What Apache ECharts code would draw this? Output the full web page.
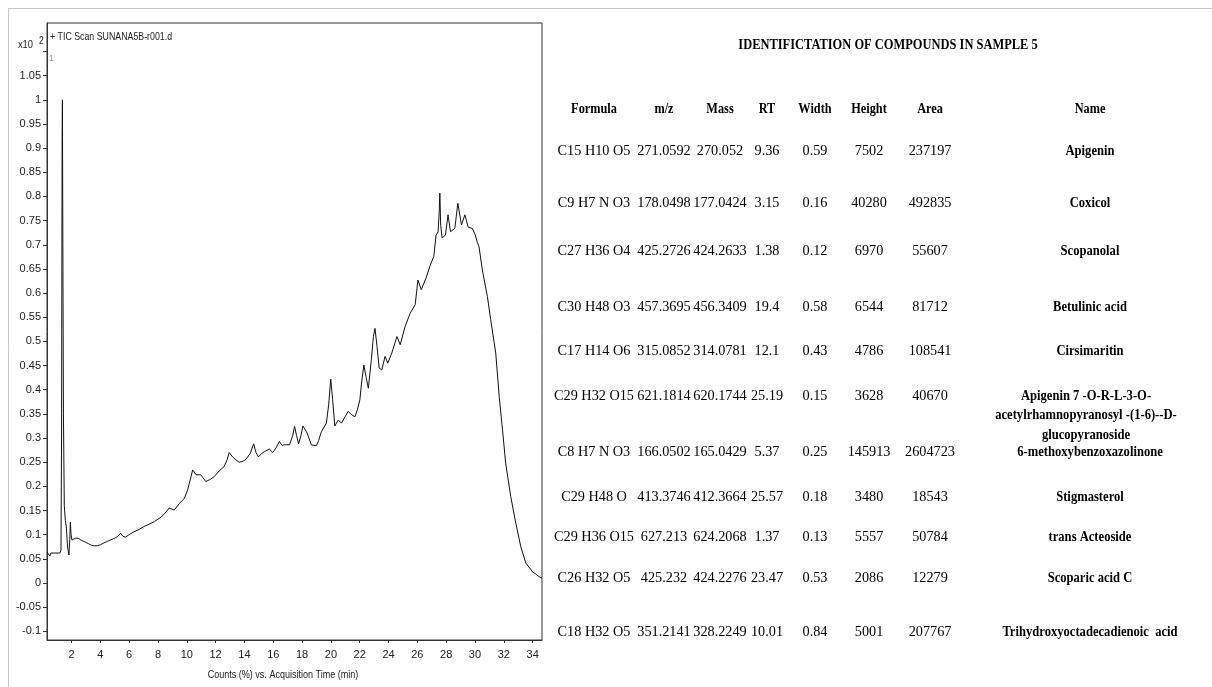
<!DOCTYPE html>
<html>
<head>
<meta charset="utf-8">
<script src="https://cdn.jsdelivr.net/npm/echarts@6/dist/echarts.min.js"></script>
<style>
html,body{margin:0;padding:0;background:#fff;}
#chart{width:1212px;height:687px;}
</style>
</head>
<body>
<div id="chart"></div>
<script>
// ---- Chromatogram data (retention time in min, counts x10^2) ----
const retentionTimes = [0.30,0.50,0.57,0.85,1.20,1.27,1.31,1.35,1.37,1.40,1.44,1.50,1.57,1.64,1.73,1.82,1.88,1.92,1.97,2.03,2.15,2.30,2.50,2.70,2.85,3.00,3.20,3.40,3.55,3.80,4.01,4.25,4.48,4.70,4.94,5.20,5.41,5.55,5.75,6.05,6.34,6.70,7.04,7.40,7.74,8.00,8.20,8.50,8.78,9.13,9.50,9.83,10.06,10.25,10.41,10.64,10.97,11.32,11.60,11.90,12.25,12.59,12.80,12.94,13.18,13.40,13.64,13.90,14.11,14.40,14.64,14.80,14.97,15.20,15.39,15.73,15.97,16.20,16.43,16.60,16.78,17.13,17.35,17.48,17.62,17.76,17.92,18.06,18.20,18.36,18.64,18.99,19.15,19.34,19.69,19.85,19.99,20.12,20.27,20.51,20.74,21.00,21.20,21.45,21.67,21.85,22.01,22.15,22.29,22.45,22.60,22.80,22.95,23.06,23.20,23.35,23.53,23.76,23.95,24.23,24.58,24.81,25.15,25.50,25.85,26.04,26.27,26.60,26.90,27.14,27.30,27.44,27.52,27.56,27.62,27.72,27.95,28.13,28.30,28.60,28.81,29.06,29.30,29.53,29.81,30.00,30.16,30.28,30.51,30.86,31.09,31.44,31.68,31.91,32.13,32.48,32.83,33.18,33.53,34.00,34.46,34.65];
const counts = [0.064,0.056,0.062,0.062,0.062,0.068,0.30,0.92,1.00,0.70,0.35,0.16,0.13,0.116,0.074,0.058,0.090,0.126,0.100,0.089,0.089,0.093,0.092,0.088,0.086,0.084,0.081,0.078,0.077,0.077,0.079,0.083,0.086,0.089,0.092,0.096,0.103,0.097,0.095,0.101,0.106,0.111,0.117,0.122,0.127,0.132,0.136,0.145,0.155,0.151,0.165,0.175,0.193,0.215,0.234,0.224,0.224,0.210,0.214,0.220,0.232,0.241,0.255,0.270,0.261,0.255,0.250,0.252,0.256,0.268,0.288,0.270,0.261,0.268,0.272,0.277,0.270,0.280,0.293,0.285,0.286,0.286,0.305,0.324,0.305,0.288,0.305,0.325,0.318,0.310,0.286,0.284,0.295,0.313,0.331,0.370,0.422,0.380,0.325,0.337,0.331,0.345,0.355,0.348,0.344,0.360,0.379,0.420,0.451,0.425,0.403,0.460,0.510,0.527,0.490,0.445,0.441,0.469,0.455,0.476,0.510,0.493,0.531,0.558,0.576,0.627,0.607,0.631,0.658,0.676,0.720,0.727,0.770,0.807,0.740,0.714,0.720,0.762,0.727,0.734,0.786,0.741,0.762,0.736,0.734,0.722,0.705,0.696,0.648,0.593,0.545,0.476,0.386,0.317,0.248,0.179,0.124,0.075,0.041,0.023,0.013,0.010];
const xTickLabels = [2,4,6,8,10,12,14,16,18,20,22,24,26,28,30,32,34];
const yTickLabels = [-0.1,-0.05,0,0.05,0.1,0.15,0.2,0.25,0.3,0.35,0.4,0.45,0.5,0.55,0.6,0.65,0.7,0.75,0.8,0.85,0.9,0.95,1,1.05];
const yTicks = yTickLabels.concat([1.1]);
const xAxisTitle = 'Counts (%) vs. Acquisition Time (min)';
const plotTitle = '+ TIC Scan SUNANA5B-r001.d';

// ---- Compound table ----
const tableTitle = 'IDENTIFICTATION OF COMPOUNDS IN SAMPLE 5';
const headers = ['Formula','m/z','Mass','RT','Width','Height','Area','Name'];
const formulas = ['C15 H10 O5','C9 H7 N O3','C27 H36 O4','C30 H48 O3','C17 H14 O6','C29 H32 O15','C8 H7 N O3','C29 H48 O','C29 H36 O15','C26 H32 O5','C18 H32 O5'];
const mzValues = ['271.0592','178.0498','425.2726','457.3695','315.0852','621.1814','166.0502','413.3746','627.213','425.232','351.2141'];
const masses = ['270.052','177.0424','424.2633','456.3409','314.0781','620.1744','165.0429','412.3664','624.2068','424.2276','328.2249'];
const rtValues = ['9.36','3.15','1.38','19.4','12.1','25.19','5.37','25.57','1.37','23.47','10.01'];
const widthValues = ['0.59','0.16','0.12','0.58','0.43','0.15','0.25','0.18','0.13','0.53','0.84'];
const heightValues = ['7502','40280','6970','6544','4786','3628','145913','3480','5557','2086','5001'];
const areaValues = ['237197','492835','55607','81712','108541','40670','2604723','18543','50784','12279','207767'];
const compoundNames = ['Apigenin','Coxicol','Scopanolal','Betulinic acid','Cirsimaritin','Apigenin 7 -O-R-L-3-O-\nacetylrhamnopyranosyl -(1-6)--D-\nglucopyranoside','6-methoxybenzoxazolinone','Stigmasterol','trans Acteoside','Scoparic acid C','Trihydroxyoctadecadienoic  acid'];

// ---- layout (not data) ----
const colX = [594,664,720,767,815,869,930,1090];
const headerY = 109;
const rowY = [151,203,251,307,351,396,452,497,537,578,632];
const serif = '"Liberation Serif","Times New Roman",serif';
const sans = '"Liberation Sans",Arial,sans-serif';

function txt(x, y, text, opt) {
  opt = opt || {};
  return {
    type: 'text', x: x, y: y, silent: true,
    scaleX: opt.scaleX || 1,
    style: {
      text: text, x: 0, y: 0,
      fill: opt.color || '#000',
      fontFamily: opt.family || serif,
      fontSize: opt.size || 15,
      fontWeight: opt.bold ? 'bold' : 'normal',
      align: opt.align || 'center', textAlign: opt.align || 'center',
      verticalAlign: opt.valign || 'middle', textVerticalAlign: opt.valign || 'middle',
      lineHeight: opt.lineHeight
    }
  };
}

const graphics = [];
// outer light frame
graphics.push({type:'line', silent:true, shape:{x1:8,y1:8.5,x2:1212,y2:8.5}, style:{stroke:'#c8c8c8',lineWidth:1}});
graphics.push({type:'line', silent:true, shape:{x1:8.5,y1:8,x2:8.5,y2:687}, style:{stroke:'#c8c8c8',lineWidth:1}});
// chromatogram annotations
graphics.push(txt(50, 37, plotTitle, {family: sans, size: 11, align: 'left', color:'#222', scaleX: 0.8}));
graphics.push(txt(49, 59, '1', {family: sans, size: 9, align: 'left', color:'#999'}));
graphics.push(txt(33, 45, 'x10', {family: sans, size: 11, align: 'right', color:'#222', scaleX: 0.85}));
graphics.push(txt(39, 41, '2', {family: sans, size: 10, align: 'left', color:'#222', scaleX: 0.85}));
graphics.push(txt(283, 675, xAxisTitle, {family: sans, size: 11, color:'#222', scaleX: 0.82}));
// table
graphics.push(txt(888, 45, tableTitle, {bold: true, size: 15, scaleX: 0.83}));
headers.forEach((h, i) => graphics.push(txt(colX[i], headerY, h, {bold: true, size: 15, scaleX: 0.82})));
const cols = [formulas, mzValues, masses, rtValues, widthValues, heightValues, areaValues];
rowY.forEach((y, r) => {
  cols.forEach((col, c) => graphics.push(txt(colX[c], y, col[r], {size: 15, scaleX: 0.95})));
  const name = compoundNames[r];
  if (name.indexOf('\n') >= 0) {
    graphics.push(txt(colX[7] - 4, y - 9.75, name, {bold: true, size: 15, scaleX: 0.84, valign: 'top', lineHeight: 19.5}));
  } else {
    graphics.push(txt(colX[7], y, name, {bold: true, size: 15, scaleX: 0.84}));
  }
});

const chart = echarts.init(document.getElementById('chart'));
chart.setOption({
  backgroundColor: '#fff',
  animation: false,
  grid: {left: 47, top: 23, width: 495, height: 617, show: true, borderColor: '#333', borderWidth: 1, backgroundColor: 'transparent'},
  xAxis: {
    type: 'value', min: 0.3, max: 34.65,
    axisLine: {show: true, onZero: false, lineStyle: {color: '#333'}},
    axisTick: {show: true, length: 3, customValues: xTickLabels, lineStyle: {color: '#333'}},
    axisLabel: {customValues: xTickLabels, fontFamily: sans, fontSize: 11, color: '#222', margin: 9},
    splitLine: {show: false}
  },
  yAxis: {
    type: 'value', min: -0.118, max: 1.159,
    axisLine: {show: true, onZero: false, lineStyle: {color: '#333'}},
    axisTick: {show: true, length: 4, customValues: yTicks, lineStyle: {color: '#333'}},
    axisLabel: {customValues: yTickLabels, fontFamily: sans, fontSize: 11, color: '#222', margin: 6,
      formatter: v => String(Math.round(v * 100) / 100)},
    splitLine: {show: false}
  },
  series: [{
    type: 'line', showSymbol: false, symbol: 'none',
    data: retentionTimes.map((t, i) => [t, counts[i]]),
    lineStyle: {color: '#111', width: 1},
    silent: true
  }],
  graphic: graphics
});
</script>
</body>
</html>
